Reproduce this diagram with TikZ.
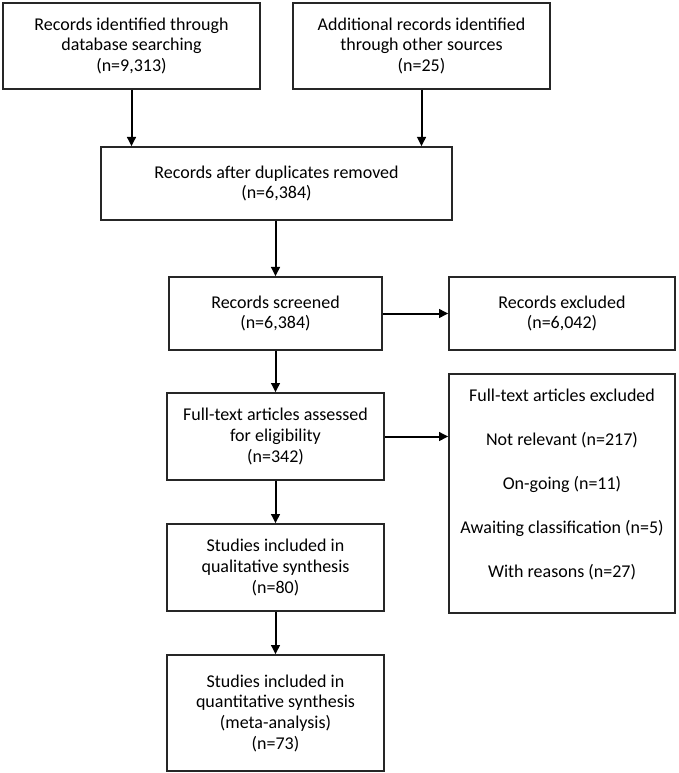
\documentclass[tikz,border=0pt]{standalone}
\usepackage{fontspec}
\setmainfont{Carlito}
\usetikzlibrary{arrows.meta}
\begin{document}
\begin{tikzpicture}[x=0.75pt,y=-0.75pt,
  box/.style={draw=black!85, line width=1pt, rectangle, align=center, inner sep=2pt,
    font=\fontsize{13.5}{15.5}\selectfont},
  arr/.style={line width=1.5pt, -{Triangle[length=7pt,width=6.5pt]}}]
\useasboundingbox (0,0) rectangle (678,773);
\node[box, minimum width=257*0.75pt, minimum height=86*0.75pt] (b1) at (131.5,46)
  {Records identified through\\database searching\\(n=9,313)};
\node[box, minimum width=257*0.75pt, minimum height=86*0.75pt] (b2) at (421.5,46)
  {Additional records identified\\through other sources\\(n=25)};
\node[box, minimum width=351*0.75pt, minimum height=73*0.75pt] (b3) at (276.5,183.5)
  {Records after duplicates removed\\(n=6,384)};
\node[box, minimum width=213*0.75pt, minimum height=73*0.75pt] (b4) at (275.5,313.5)
  {Records screened\\(n=6,384)};
\node[box, minimum width=226*0.75pt, minimum height=73*0.75pt] (b5) at (562,313.5)
  {Records excluded\\(n=6,042)};
\node[box, minimum width=217*0.75pt, minimum height=87*0.75pt] (b6) at (275.5,436.5)
  {Full-text articles assessed\\for eligibility\\(n=342)};
\node[box, minimum width=226*0.75pt, minimum height=239*0.75pt] (b7) at (562,493.5) {};
\node[align=center, font=\fontsize{13.5}{15.5}\selectfont] (b7t) at (562,484.5)
  {Full-text articles excluded\\[17.5pt]Not relevant (n=217)\\[17.5pt]On-going (n=11)\\[17.5pt]Awaiting classification (n=5)\\[17.5pt]With reasons (n=27)};
\node[box, minimum width=217*0.75pt, minimum height=87*0.75pt] (b8) at (275.5,567.5)
  {Studies included in\\qualitative synthesis\\(n=80)};
\node[box, minimum width=217*0.75pt, minimum height=116*0.75pt] (b9) at (275.5,713)
  {Studies included in\\quantitative synthesis\\(meta-analysis)\\(n=73)};
\draw[arr] (b1.south) -- (b1.south |- b3.north);
\draw[arr] (b2.south) -- (b2.south |- b3.north);
\draw[arr] (b4.north |- b3.south) -- (b4.north);
\draw[arr] (b4.south) -- (b4.south |- b6.north);
\draw[arr] (b6.south) -- (b6.south |- b8.north);
\draw[arr] (b8.south) -- (b8.south |- b9.north);
\draw[arr] (b4.east) -- (b4.east -| b5.west);
\draw[arr] (b6.east) -- (b6.east -| b7.west);
\end{tikzpicture}
\end{document}
